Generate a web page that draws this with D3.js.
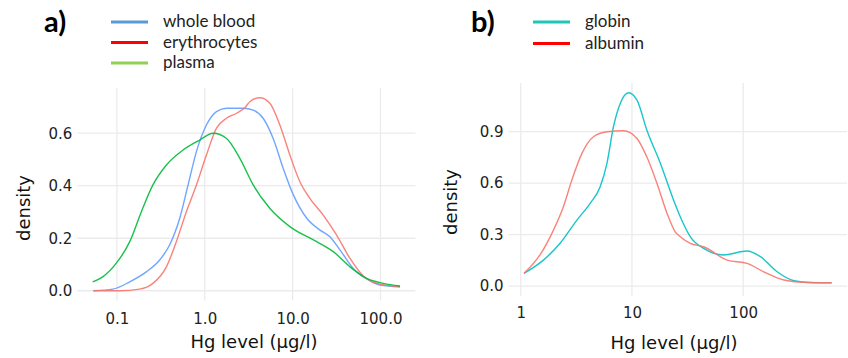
<!DOCTYPE html>
<html>
<head>
<meta charset="utf-8">
<script src="https://cdn.jsdelivr.net/npm/d3@7"></script>
<style>
  body { margin: 0; background: #fff; }
  .tick-label { font-family: "DejaVu Sans", sans-serif; font-size: 15px; fill: #222; }
  .axis-title { font-family: "DejaVu Sans", sans-serif; font-size: 18px; fill: #111; }
  .legend-text { font-family: Lato, "Open Sans", sans-serif; font-size: 17px; fill: #222; }
  .panel-tag { font-family: Lato, "Open Sans", sans-serif; font-size: 29px; font-weight: bold; fill: #000; }
</style>
</head>
<body>
<div class="chart"></div>
<script>
const width = 848,
      height = 358;

// panel a) Hg level (µg/l) vs density
const aXTicks = [0.1, 1, 10, 100];
const aYTicks = [0, 0.2, 0.4, 0.6];
const wholeBlood = [[0.054,0],[0.09,0.006],[0.14,0.034],[0.216,0.072],[0.307,0.117],[0.398,0.174],[0.519,0.276],[0.646,0.403],[0.804,0.53],[1.045,0.631],[1.36,0.682],[1.77,0.695],[2.74,0.695],[3.56,0.688],[4.62,0.657],[6.01,0.58],[7.82,0.466],[10.2,0.365],[14.5,0.276],[20.5,0.231],[26.6,0.206],[34.7,0.155],[49,0.085],[69.8,0.045],[99,0.022],[167,0.015]];
const erythrocytes = [[0.054,0],[0.107,0],[0.182,0.006],[0.257,0.028],[0.366,0.091],[0.475,0.187],[0.618,0.301],[0.804,0.403],[1.045,0.517],[1.36,0.619],[1.77,0.657],[2.3,0.676],[2.86,0.697],[3.26,0.72],[4.24,0.735],[5.51,0.714],[7.16,0.631],[9.31,0.517],[12.1,0.415],[15.7,0.352],[22.3,0.288],[31.7,0.212],[45,0.123],[63.8,0.056],[90.8,0.028],[167,0.015]];
const plasma = [[0.053,0.034],[0.069,0.053],[0.098,0.104],[0.14,0.187],[0.19,0.301],[0.257,0.403],[0.366,0.479],[0.566,0.536],[0.877,0.574],[1.245,0.6],[1.77,0.58],[2.51,0.504],[3.56,0.403],[5.5,0.314],[9.3,0.244],[18.8,0.187],[29,0.149],[45,0.091],[69.8,0.047],[108,0.028],[167,0.018]];

// panel b)
const bXTicks = [1, 10, 100];
const bYTicks = [0, 0.3, 0.6, 0.9];
const globin = [[1.07,0.074],[1.6,0.151],[2.26,0.249],[3.2,0.384],[4.21,0.482],[5.18,0.578],[5.96,0.715],[6.82,0.928],[7.85,1.064],[9.31,1.126],[11.1,1.083],[13.6,0.909],[18,0.715],[23.7,0.5],[27.2,0.404],[33.5,0.287],[44.2,0.219],[66.8,0.181],[108.6,0.204],[143,0.171],[202,0.083],[286,0.031],[432,0.019],[624,0.019]];
const albumin = [[1.07,0.074],[1.49,0.181],[1.97,0.326],[2.42,0.462],[2.88,0.617],[3.55,0.773],[4.51,0.87],[5.96,0.899],[8.39,0.905],[11.1,0.86],[13.6,0.753],[16.8,0.598],[20.7,0.423],[24.5,0.316],[27.2,0.287],[33.5,0.249],[44.2,0.229],[71.8,0.151],[108.6,0.132],[153,0.083],[232,0.035],[352,0.022],[624,0.019]];

const svg = d3.select(".chart")
              .append("svg")
              .attr("width", width)
              .attr("height", height)
              .attr("viewBox", [0, 0, width, height]);

// ggplot-like 5% expansion
function expandLog(series){
    var all = [].concat(...series);
    var lo = Math.log10(d3.min(all, d => d[0])), hi = Math.log10(d3.max(all, d => d[0]));
    var p = (hi - lo) * 0.05;
    return [Math.pow(10, lo - p), Math.pow(10, hi + p)];
}
function expandLin(series){
    var all = [].concat(...series);
    var hi = d3.max(all, d => d[1]);
    return [-hi * 0.05, hi * 1.05];
}

function drawPanel(p){
    var x = d3.scaleLog().domain(expandLog(p.series.map(s => s.data))).range([p.left, p.right]);
    var y = d3.scaleLinear().domain(expandLin(p.series.map(s => s.data))).range([p.bottom, p.top]);
    var g = svg.append("g").classed("panel", true);

    // grid
    g.append("g").selectAll("line.h").data(p.yTicks).enter().append("line")
     .attr("x1", p.left).attr("x2", p.right)
     .attr("y1", d => y(d)).attr("y2", d => y(d))
     .attr("stroke", "#ebebeb").attr("stroke-width", 1.3);
    g.append("g").selectAll("line.v").data(p.xTicks).enter().append("line")
     .attr("x1", d => x(d)).attr("x2", d => x(d))
     .attr("y1", p.top).attr("y2", p.bottom)
     .attr("stroke", "#ebebeb").attr("stroke-width", 1.3);

    // axes
    var xa = g.append("g").attr("transform", "translate(0," + p.bottom + ")")
              .call(d3.axisBottom(x).tickValues(p.xTicks).tickFormat(p.xFormat).tickSize(0).tickPadding(p.xPad));
    var ya = g.append("g").attr("transform", "translate(" + p.left + ",0)")
              .call(d3.axisLeft(y).tickValues(p.yTicks).tickFormat(d3.format(".1f")).tickSize(0).tickPadding(5));
    [xa, ya].forEach(function(a){
        a.select(".domain").remove();
        a.selectAll("text").attr("class", "tick-label").attr("font-family", null).attr("font-size", null).attr("fill", null);
    });

    // curves
    var line = d3.line().x(d => x(d[0])).y(d => y(d[1])).curve(d3.curveMonotoneX);
    g.append("g").selectAll("path").data(p.series).enter().append("path")
     .attr("d", d => line(d.data))
     .attr("fill", "none")
     .attr("stroke", d => d.color)
     .attr("stroke-width", 1.4)
     .attr("stroke-opacity", 0.9);

    // titles
    g.append("text").attr("class", "axis-title")
     .attr("x", p.xTitle[0]).attr("y", p.xTitle[1])
     .attr("text-anchor", "middle").text("Hg level (µg/l)");
    g.append("text").attr("class", "axis-title")
     .attr("transform", "translate(" + p.yTitle[0] + "," + p.yTitle[1] + ")rotate(-90)")
     .attr("text-anchor", "middle").attr("dy", "0.35em").text("density");

    // tag + legend
    g.append("text").attr("class", "panel-tag").attr("x", p.tag[0]).attr("y", p.tag[1]).text(p.tagText);
    var lg = g.append("g").selectAll("g").data(p.series.filter(s => s.legend)).enter().append("g")
              .attr("transform", (d, i) => "translate(" + p.legend[0] + "," + (p.legend[1] + i * p.legendStep) + ")");
    lg.append("line").attr("x1", 0).attr("x2", 37).attr("y1", 0).attr("y2", 0)
      .attr("stroke", d => d.legendColor).attr("stroke-width", 3);
    lg.append("text").attr("class", "legend-text").attr("x", 52).attr("y", 5).text(d => d.name);
}

drawPanel({
    left: 77.3, right: 415.4, top: 88.1, bottom: 300.4,
    xTicks: aXTicks, yTicks: aYTicks, xFormat: d3.format(".1f"), xPad: 13,
    xTitle: [254, 348], yTitle: [24, 208],
    tag: [44, 32], tagText: "a)",
    legend: [111, 22], legendStep: 20.5,
    series: [
        {name: "whole blood", data: wholeBlood, color: "#619CFF", legendColor: "#5B9BD5", legend: true},
        {name: "erythrocytes", data: erythrocytes, color: "#F8766D", legendColor: "#FF0000", legend: true},
        {name: "plasma", data: plasma, color: "#00BA38", legendColor: "#92D050", legend: true}
    ]
});

drawPanel({
    left: 508.6, right: 847, top: 83.1, bottom: 295.7,
    xTicks: bXTicks, yTicks: bYTicks, xFormat: d3.format("d"), xPad: 12,
    xTitle: [674, 349], yTitle: [451, 202],
    tag: [471, 32], tagText: "b)",
    legend: [533, 22], legendStep: 21.5,
    series: [
        {name: "globin", data: globin, color: "#00BFC4", legendColor: "#1CC7B5", legend: true},
        {name: "albumin", data: albumin, color: "#F8766D", legendColor: "#FF0000", legend: true}
    ]
});
</script>
</body>
</html>
